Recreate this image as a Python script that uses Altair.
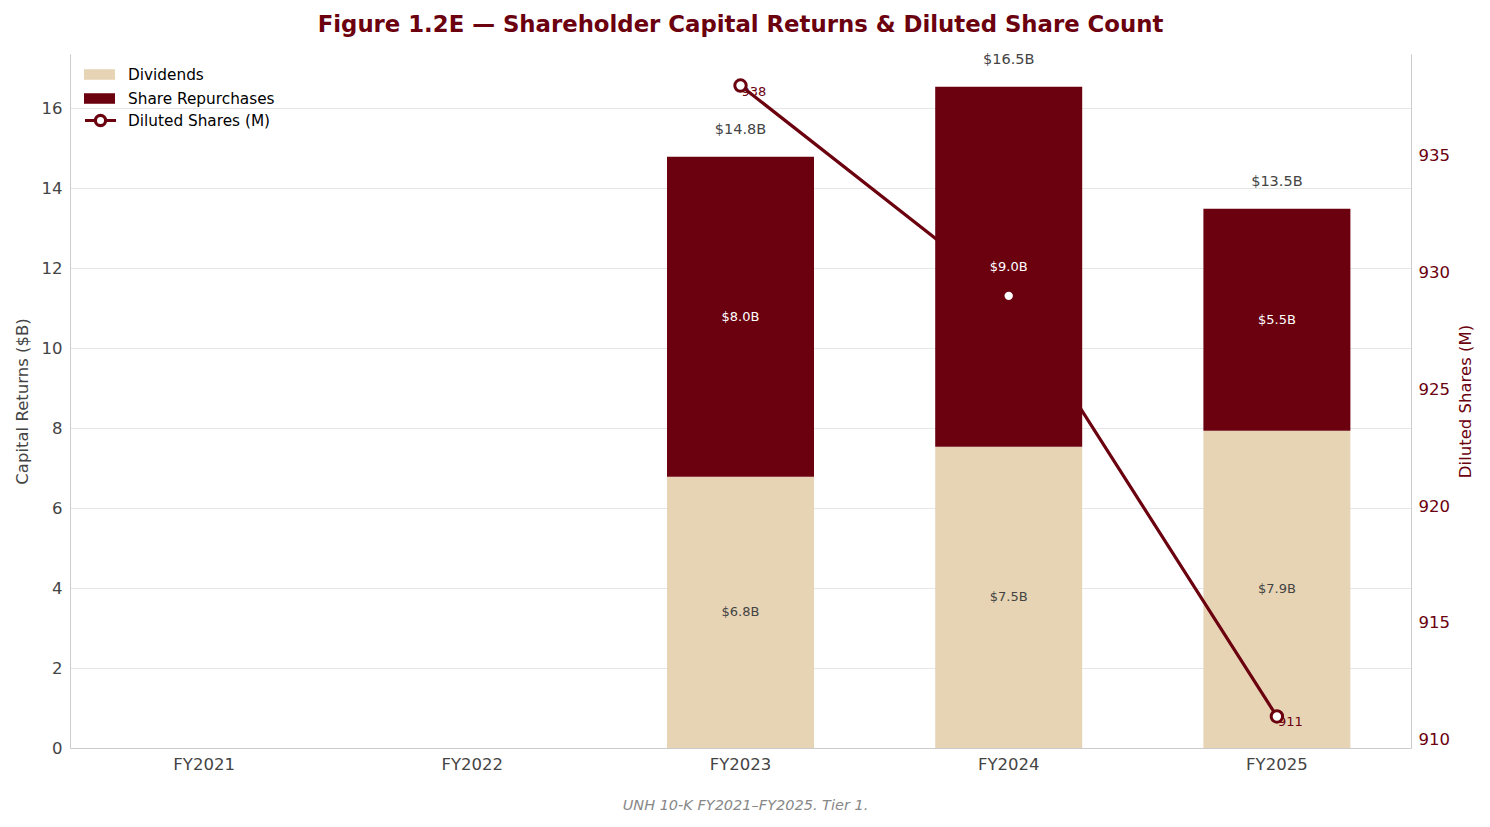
import altair as alt
import pandas as pd

# ---- data ----
years = ["FY2021", "FY2022", "FY2023", "FY2024", "FY2025"]
bar_years = ["FY2023", "FY2024", "FY2025"]
dividends = [6.78, 7.53, 7.93]
repurchases = [8.0, 9.0, 5.55]
div_labels = ["$6.8B", "$7.5B", "$7.9B"]
rep_labels = ["$8.0B", "$9.0B", "$5.5B"]
total_labels = ["$14.8B", "$16.5B", "$13.5B"]
shares = [938, 929, 911]
share_labels = ["938", "929", "911"]

DARK = "#6B000F"
TAN = "#E7D4B5"
FONT = "DejaVu Sans"

# ---- tables ----
bars_df = pd.DataFrame({
    "year": bar_years * 2,
    "series": ["Dividends"] * 3 + ["Share Repurchases"] * 3,
    "value": dividends + repurchases,
    "order": [0] * 3 + [1] * 3,
})
div_df = pd.DataFrame({"year": bar_years, "mid": [d / 2 for d in dividends], "label": div_labels})
rep_df = pd.DataFrame({"year": bar_years, "mid": [d + r / 2 for d, r in zip(dividends, repurchases)], "label": rep_labels})
tot_df = pd.DataFrame({"year": bar_years, "total": [d + r for d, r in zip(dividends, repurchases)], "label": total_labels})
sh_df = pd.DataFrame({"year": bar_years, "shares": shares, "label": share_labels, "series": ["Diluted Shares (M)"] * 3})

# ---- shared encodings ----
x_enc = alt.X(
    "year:N",
    sort=years,
    scale=alt.Scale(domain=years, paddingInner=0.45, paddingOuter=0.225),
    axis=alt.Axis(
        title="UNH 10-K FY2021\u2013FY2025. Tier 1.",
        titleFontStyle="italic", titleFontWeight="normal", titleFontSize=14.5,
        titleColor="#888888", titlePadding=26, titleFont=FONT,
        titleX=675, titleAlign="center",
        labelAngle=0, labelFontSize=16.5, labelColor="#444444", labelPadding=8,
        tickSize=0, grid=False, domainColor="#cccccc",
    ),
)

left_scale = alt.Scale(domain=[0, 17.35], nice=False, zero=True)
left_axis = alt.Axis(
    title="Capital Returns ($B)", titleFontSize=16.5, titleFontWeight="normal", titleColor="#444444",
    titlePadding=11, values=list(range(0, 17, 2)), labelFontSize=16.5, labelColor="#444444",
    labelPadding=8, tickSize=0, grid=True, gridColor="#e6e6e6", gridWidth=1,
    domainColor="#cccccc", orient="left",
)

def ly(field):
    return alt.Y(field, type="quantitative", scale=left_scale, axis=left_axis)

right_scale = alt.Scale(domain=[909.65, 939.35], nice=False, zero=False)
right_axis = alt.Axis(
    title="Diluted Shares (M)", titleFontSize=16.5, titleFontWeight="normal", titleColor=DARK,
    titleAngle=270, titleBaseline="top", titlePadding=8,
    values=[910, 915, 920, 925, 930, 935], labelFontSize=16.5, labelColor=DARK,
    labelPadding=7, tickSize=0, grid=False, domainColor="#cccccc", orient="right",
)

def ry(field):
    return alt.Y(field, type="quantitative", scale=right_scale, axis=right_axis)

# ---- bars ----
bars = alt.Chart(bars_df).mark_bar(size=147).encode(
    x=x_enc,
    y=alt.Y("value:Q", stack="zero", scale=left_scale, axis=left_axis),
    order=alt.Order("order:Q", sort="ascending"),
    color=alt.Color(
        "series:N",
        scale=alt.Scale(domain=["Dividends", "Share Repurchases"], range=[TAN, DARK]),
        legend=alt.Legend(
            orient="none", legendX=14, legendY=5, title=None,
            symbolType="M-1,-0.34L1,-0.34L1,0.34L-1,0.34Z", symbolSize=961,
            symbolStrokeWidth=0, labelFontSize=15.3, labelColor="#000000",
            labelFont=FONT, labelOffset=13, rowPadding=-2,
        ),
    ),
)

div_text = alt.Chart(div_df).mark_text(fontSize=13, color="#444444", font=FONT, baseline="middle").encode(
    x=x_enc, y=ly("mid"), text="label:N")
rep_text = alt.Chart(rep_df).mark_text(fontSize=13, color="#ffffff", font=FONT, baseline="middle").encode(
    x=x_enc, y=ly("mid"), text="label:N")
tot_text = alt.Chart(tot_df).mark_text(fontSize=14.5, color="#444444", font=FONT, baseline="middle", dy=-27).encode(
    x=x_enc, y=ly("total"), text="label:N")

left = alt.layer(bars, div_text, rep_text, tot_text)

# ---- line ----
line = alt.Chart(sh_df).mark_line(strokeWidth=3.2).encode(
    x=x_enc,
    y=ry("shares"),
    stroke=alt.Stroke(
        "series:N",
        scale=alt.Scale(domain=["Diluted Shares (M)"], range=[DARK]),
        legend=alt.Legend(
            orient="none", legendX=13, legendY=49, title=None,
            symbolType="M-1,0L-0.33,0M0.33,0L1,0M0.33,0A0.33,0.33 0 1,1 -0.33,0A0.33,0.33 0 1,1 0.33,0",
            symbolSize=961, symbolStrokeWidth=3.2, symbolFillColor="#ffffff",
            symbolStrokeColor=DARK, labelFontSize=15.3, labelColor="#000000",
            labelFont=FONT, labelOffset=10,
        ),
    ),
)
sh_text = alt.Chart(sh_df).mark_text(fontSize=13, color=DARK, font=FONT, align="left", baseline="middle", dx=1, dy=6).encode(
    x=x_enc, y=ry("shares"), text="label:N")
pts = alt.Chart(sh_df).mark_point(filled=True, fill="#ffffff", stroke=DARK, strokeWidth=3, size=130, opacity=1).encode(
    x=x_enc, y=ry("shares"))

right = alt.layer(line, sh_text, pts)

chart = alt.layer(left, right).resolve_scale(y="independent", color="independent", stroke="independent").properties(
    width=1341,
    height=694,
    title=alt.TitleParams(
        "Figure 1.2E \u2014 Shareholder Capital Returns & Diluted Share Count",
        fontSize=22.8, font=FONT, fontWeight="bold", color=DARK, anchor="middle", offset=15,
    ),
    autosize=alt.AutoSizeParams(type="none"),
    padding={"left": 70, "top": 54, "right": 79, "bottom": 79},
).configure(font=FONT).configure_view(stroke=None)

chart.save("out.html", embed_options={"renderer": "svg", "actions": False})
